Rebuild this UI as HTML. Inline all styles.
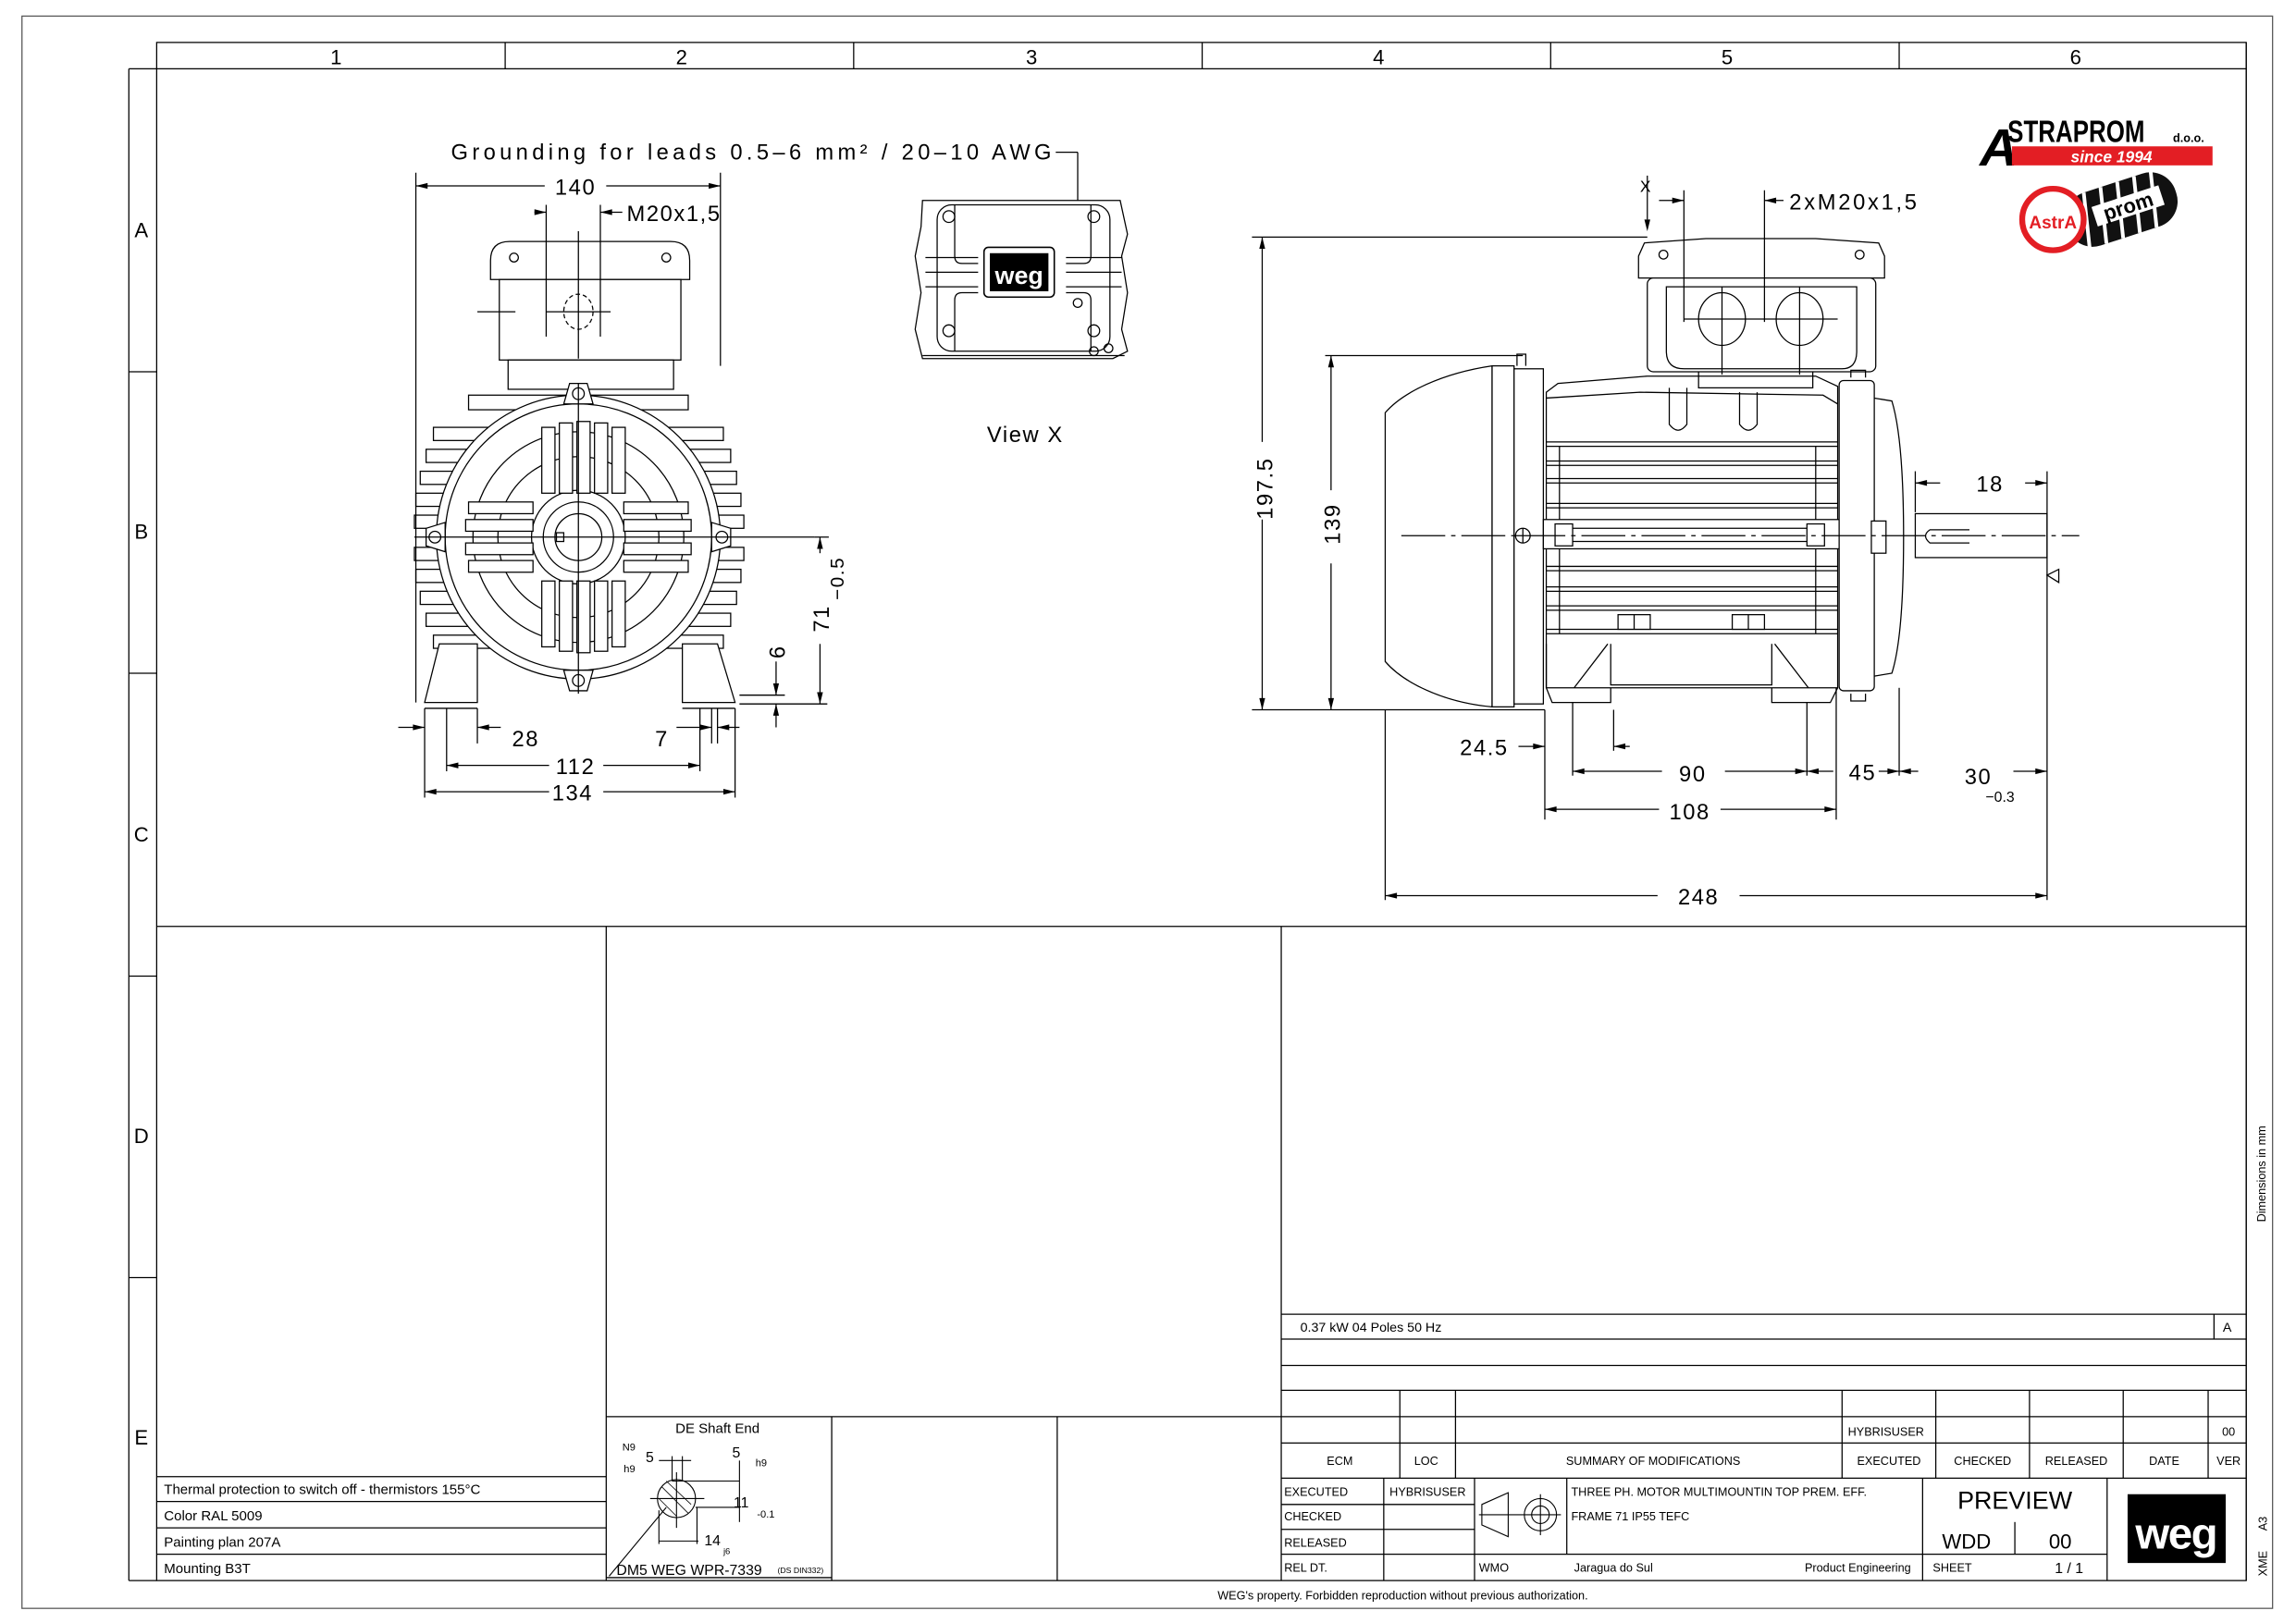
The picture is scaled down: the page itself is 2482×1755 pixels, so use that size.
<!DOCTYPE html>
<html><head><meta charset="utf-8"><style>
html,body{margin:0;padding:0;background:#fff;}
svg{display:block;}
text{font-family:"Liberation Sans",sans-serif;fill:#000;}
.d{font-size:15px;letter-spacing:1px;font-weight:normal;}
.t{font-size:8.5px;}
</style></head><body>
<svg width="2482" height="1755" viewBox="0 0 1568 1109" preserveAspectRatio="none" xmlns="http://www.w3.org/2000/svg">
<rect width="1568" height="1109" fill="#fff"/>
<g fill="none" stroke="#000" stroke-width="0.8">
<rect x="15" y="11" width="1537" height="1088" stroke="#555"/>
<rect x="107" y="29" width="1427" height="1051"/>
<line x1="107" y1="47" x2="1534" y2="47"/>
<line x1="345" y1="29" x2="345" y2="47"/><line x1="583" y1="29" x2="583" y2="47"/>
<line x1="821" y1="29" x2="821" y2="47"/><line x1="1059" y1="29" x2="1059" y2="47"/>
<line x1="1297" y1="29" x2="1297" y2="47"/>
<line x1="88" y1="47" x2="88" y2="1080"/><line x1="88" y1="47" x2="107" y2="47"/>
<line x1="88" y1="254" x2="107" y2="254"/><line x1="88" y1="460" x2="107" y2="460"/>
<line x1="88" y1="667" x2="107" y2="667"/><line x1="88" y1="873" x2="107" y2="873"/>
<line x1="88" y1="1080" x2="107" y2="1080"/>
<line x1="107" y1="633" x2="1534" y2="633"/>
<line x1="414" y1="633" x2="414" y2="1080"/>
<line x1="875" y1="633" x2="875" y2="1080"/>
<line x1="107" y1="1009" x2="414" y2="1009"/><line x1="107" y1="1026" x2="414" y2="1026"/>
<line x1="107" y1="1044" x2="414" y2="1044"/><line x1="107" y1="1062" x2="414" y2="1062"/>
<line x1="414" y1="968" x2="875" y2="968"/>
<line x1="568" y1="968" x2="568" y2="1080"/><line x1="722" y1="968" x2="722" y2="1080"/>
<line x1="414" y1="1078" x2="568" y2="1078"/>
<line x1="875" y1="898" x2="1534" y2="898"/><line x1="875" y1="915" x2="1534" y2="915"/>
<line x1="875" y1="933" x2="1534" y2="933"/><line x1="875" y1="950" x2="1534" y2="950"/>
<line x1="875" y1="968" x2="1534" y2="968"/><line x1="875" y1="986" x2="1534" y2="986"/>
<line x1="875" y1="1010" x2="1534" y2="1010"/>
<line x1="1512" y1="898" x2="1512" y2="915"/>
<line x1="956" y1="950" x2="956" y2="1010"/><line x1="994" y1="950" x2="994" y2="1010"/>
<line x1="1258" y1="950" x2="1258" y2="1010"/><line x1="1322" y1="950" x2="1322" y2="1010"/>
<line x1="1386" y1="950" x2="1386" y2="1010"/><line x1="1450" y1="950" x2="1450" y2="1010"/>
<line x1="1508" y1="950" x2="1508" y2="1010"/>
<line x1="875" y1="1028" x2="1007" y2="1028"/><line x1="875" y1="1045" x2="1007" y2="1045"/>
<line x1="875" y1="1062" x2="1439" y2="1062"/>
<line x1="945" y1="1010" x2="945" y2="1080"/><line x1="1007" y1="1010" x2="1007" y2="1080"/>
<line x1="1070" y1="1010" x2="1070" y2="1062"/><line x1="1313" y1="1010" x2="1313" y2="1080"/>
<line x1="1439" y1="1010" x2="1439" y2="1080"/><line x1="1376" y1="1040" x2="1376" y2="1062"/>
<line x1="1534" y1="29" x2="1534" y2="1080"/>
</g>
<g class="d" text-anchor="middle">
<text x="230" y="44" style="font-size:14px">1</text><text x="466" y="44" style="font-size:14px">2</text>
<text x="705" y="44" style="font-size:14px">3</text><text x="942" y="44" style="font-size:14px">4</text>
<text x="1180" y="44" style="font-size:14px">5</text><text x="1418" y="44" style="font-size:14px">6</text>
<text x="97" y="162" style="font-size:14px">A</text><text x="97" y="368" style="font-size:14px">B</text>
<text x="97" y="575" style="font-size:14px">C</text><text x="97" y="781" style="font-size:14px">D</text>
<text x="97" y="987" style="font-size:14px">E</text>
</g>

<!-- FRONT VIEW -->
<g fill="none" stroke="#000" stroke-width="0.8">
<g fill="#fff">
<rect x="296" y="292" width="198" height="9"/><rect x="291" y="307" width="208" height="9"/>
<rect x="287" y="322" width="216" height="9"/><rect x="284" y="337" width="222" height="9"/>
<rect x="283" y="352" width="225" height="9"/><rect x="283" y="374" width="225" height="9"/>
<rect x="284" y="389" width="222" height="9"/><rect x="287" y="404" width="216" height="9"/>
<rect x="291" y="419" width="208" height="9"/><rect x="296" y="434" width="198" height="9"/>
<rect x="320" y="270" width="150" height="10"/>
</g>
<path d="M300,440 L290,480 L326,480 L326,440 Z" fill="#fff"/>
<path d="M490,440 L502,480 L466,480 L466,440 Z" fill="#fff"/>
<line x1="290" y1="484" x2="326" y2="484"/><line x1="466" y1="484" x2="502" y2="484"/>
<path d="M335,178 Q335,165 348,165 L458,165 Q471,165 471,178 L471,191 L335,191 Z" fill="#fff"/>
<rect x="341" y="191" width="124" height="55" fill="#fff"/>
<rect x="347" y="246" width="113" height="20" fill="#fff"/>
<circle cx="351" cy="176" r="3"/><circle cx="455" cy="176" r="3"/>
<ellipse cx="395" cy="213" rx="10" ry="12" stroke-dasharray="3,2"/>
<line x1="395" y1="158" x2="395" y2="245"/><line x1="373" y1="213" x2="417" y2="213"/>
<line x1="326" y1="213" x2="352" y2="213"/>
<circle cx="395" cy="367" r="97" fill="#fff"/>
<circle cx="395" cy="367" r="91"/>
<circle cx="395" cy="367" r="72"/>
<circle cx="395" cy="367" r="55"/>
<circle cx="395" cy="367" r="32"/>
<g fill="#fff">
<rect x="370" y="292" width="9" height="45"/><rect x="382" y="289" width="9" height="48"/><rect x="394" y="288" width="9" height="49"/><rect x="406" y="289" width="9" height="48"/><rect x="418" y="292" width="9" height="45"/>
<rect x="370" y="397" width="9" height="45"/><rect x="382" y="397" width="9" height="48"/><rect x="394" y="397" width="9" height="49"/><rect x="406" y="397" width="9" height="48"/><rect x="418" y="397" width="9" height="45"/>
<rect x="320" y="343" width="44" height="8"/><rect x="318" y="355" width="46" height="8"/><rect x="318" y="371" width="46" height="8"/><rect x="320" y="383" width="44" height="8"/>
<rect x="426" y="343" width="44" height="8"/><rect x="426" y="355" width="46" height="8"/><rect x="426" y="371" width="46" height="8"/><rect x="426" y="383" width="44" height="8"/>
</g>
<circle cx="395" cy="367" r="24" fill="#fff"/><circle cx="395" cy="367" r="16"/>
<rect x="380" y="364" width="5" height="6"/>
<g fill="#fff">
<path d="M385,276 L389,262 L401,262 L405,276 Z"/><circle cx="395" cy="269" r="4"/>
<path d="M385,458 L389,472 L401,472 L405,458 Z"/><circle cx="395" cy="465" r="4"/>
<path d="M304,357 L291,361 L291,373 L304,377 Z"/><circle cx="297" cy="367" r="4"/>
<path d="M486,357 L499,361 L499,373 L486,377 Z"/><circle cx="493" cy="367" r="4"/>
</g>
<line x1="395" y1="262" x2="395" y2="474"/>
<line x1="283" y1="367" x2="556" y2="367"/>
<line x1="284" y1="118" x2="284" y2="480"/><line x1="492" y1="118" x2="492" y2="250"/>
<line x1="284" y1="127" x2="372" y2="127"/><line x1="414" y1="127" x2="492" y2="127"/>
<line x1="373" y1="140" x2="373" y2="230"/><line x1="410" y1="140" x2="410" y2="230"/>
<line x1="365" y1="145" x2="373" y2="145"/><line x1="410" y1="145" x2="425" y2="145"/>
<line x1="721" y1="104" x2="736" y2="104"/><line x1="736" y1="104" x2="736" y2="205"/>
<line x1="556" y1="367" x2="566" y2="367"/><line x1="560" y1="367" x2="560" y2="378"/>
<line x1="560" y1="440" x2="560" y2="481"/><line x1="505" y1="481" x2="565" y2="481"/>
<line x1="505" y1="475" x2="536" y2="475"/><line x1="530" y1="452" x2="530" y2="475"/><line x1="530" y1="481" x2="530" y2="497"/>
<line x1="290" y1="484" x2="290" y2="545"/><line x1="305" y1="484" x2="305" y2="527"/>
<line x1="326" y1="484" x2="326" y2="508"/><line x1="478" y1="484" x2="478" y2="527"/>
<line x1="486" y1="484" x2="486" y2="508"/><line x1="490" y1="484" x2="490" y2="508"/><line x1="502" y1="484" x2="502" y2="545"/>
<line x1="272" y1="497" x2="290" y2="497"/><line x1="326" y1="497" x2="342" y2="497"/>
<line x1="462" y1="497" x2="486" y2="497"/><line x1="490" y1="497" x2="505" y2="497"/>
<line x1="305" y1="523" x2="375" y2="523"/><line x1="412" y1="523" x2="478" y2="523"/>
<line x1="290" y1="541" x2="375" y2="541"/><line x1="412" y1="541" x2="502" y2="541"/>
</g>
<g fill="#000">
<path d="M284,127 l8,-2 v4z"/><path d="M492,127 l-8,-2 v4z"/>
<path d="M373,145 l-8,-2 v4z"/><path d="M410,145 l8,-2 v4z"/>
<path d="M560,367 l-2,8 h4z"/><path d="M560,481 l-2,-8 h4z"/>
<path d="M530,475 l-2,-8 h4z"/><path d="M530,481 l-2,8 h4z"/>
<path d="M290,497 l-8,-2 v4z"/><path d="M326,497 l8,-2 v4z"/>
<path d="M486,497 l-8,-2 v4z"/><path d="M490,497 l8,-2 v4z"/>
<path d="M305,523 l8,-2 v4z"/><path d="M478,523 l-8,-2 v4z"/>
<path d="M290,541 l8,-2 v4z"/><path d="M502,541 l-8,-2 v4z"/>
</g>
<text class="d" x="308" y="109" textLength="411" lengthAdjust="spacing">Grounding for leads 0.5–6 mm² / 20–10 AWG</text>
<text class="d" x="393" y="133" text-anchor="middle">140</text>
<text class="d" x="428" y="151">M20x1,5</text>
<text class="d" transform="translate(566,432) rotate(-90)">71</text>
<text class="d" transform="translate(576,410) rotate(-90)" style="font-size:13px">−0.5</text>
<text class="d" transform="translate(536,450) rotate(-90)">6</text>
<text class="d" x="359" y="510" text-anchor="middle">28</text>
<text class="d" x="452" y="510" text-anchor="middle">7</text>
<text class="d" x="393" y="529" text-anchor="middle">112</text>
<text class="d" x="391" y="547" text-anchor="middle">134</text>

<!-- VIEW X -->
<g fill="none" stroke="#000" stroke-width="0.8">
<path d="M630,137 L765,137 L770,160 L766,175 L770,200 L766,225 L770,240 L760,245 L630,245 L625,225 L629,200 L625,175 L629,155 Z" fill="#fff"/>
<rect x="640" y="140" width="118" height="100" rx="10"/>
<path d="M652,140 L652,175 Q652,180 657,180 L668,180"/><path d="M745,140 L745,175 Q745,180 740,180 L728,180"/>
<path d="M652,240 L652,205 Q652,200 657,200 L668,200"/><path d="M745,240 L745,205 Q745,200 740,200 L728,200"/>
<line x1="632" y1="176" x2="668" y2="176"/><line x1="632" y1="186" x2="668" y2="186"/><line x1="632" y1="196" x2="668" y2="196"/>
<line x1="728" y1="176" x2="766" y2="176"/><line x1="728" y1="186" x2="766" y2="186"/><line x1="728" y1="196" x2="766" y2="196"/>
<circle cx="648" cy="148" r="4"/><circle cx="747" cy="148" r="4"/><circle cx="648" cy="226" r="4"/><circle cx="747" cy="226" r="4"/>
<circle cx="736" cy="207" r="3"/><circle cx="747" cy="240" r="3"/><circle cx="757" cy="238" r="3"/>
<line x1="630" y1="243" x2="768" y2="243"/>
</g>
<rect x="672" y="169" width="48" height="34" rx="3" fill="#fff" stroke="#000" stroke-width="1"/>
<rect x="676" y="173" width="40" height="26" fill="#000"/>
<text x="696" y="194" text-anchor="middle" style="font-size:17px;font-weight:bold;fill:#fff">weg</text>
<text class="d" x="674" y="302">View  X</text>

<!-- SIDE VIEW -->
<g fill="none" stroke="#000" stroke-width="0.8">
<path d="M1019,250 C985,255 958,268 946,282 L946,452 C958,466 985,480 1019,483 Z" fill="#fff"/>
<rect x="1019" y="250" width="15" height="233" fill="#fff"/>
<rect x="1034" y="252" width="20" height="229" fill="#fff"/>
<path d="M1036,250 v-8 h6 v8"/>
<path d="M1056,268 L1064,262 L1125,257 L1240,257 L1255,264 L1255,470 L1056,470 Z" fill="#fff"/>
<path d="M1056,272 L1120,268 L1245,270 L1255,276"/>
<path d="M1140,265 L1140,290 Q1146,298 1152,290 L1152,265 M1188,268 L1188,290 Q1194,298 1200,290 L1200,268"/>
<g>
<line x1="1056" y1="302" x2="1255" y2="302"/><line x1="1056" y1="305" x2="1255" y2="305"/>
<line x1="1056" y1="315" x2="1255" y2="315"/><line x1="1056" y1="318" x2="1255" y2="318"/>
<line x1="1056" y1="327" x2="1255" y2="327"/><line x1="1056" y1="330" x2="1255" y2="330"/>
<line x1="1056" y1="344" x2="1255" y2="344"/><line x1="1056" y1="347" x2="1255" y2="347"/>
<line x1="1056" y1="387" x2="1255" y2="387"/><line x1="1056" y1="390" x2="1255" y2="390"/>
<line x1="1056" y1="401" x2="1255" y2="401"/><line x1="1056" y1="404" x2="1255" y2="404"/>
<line x1="1056" y1="414" x2="1255" y2="414"/><line x1="1056" y1="417" x2="1255" y2="417"/>
<line x1="1056" y1="430" x2="1255" y2="430"/><line x1="1056" y1="433" x2="1255" y2="433"/>
<line x1="1065" y1="305" x2="1065" y2="433"/><line x1="1240" y1="305" x2="1240" y2="433"/>
</g>
<rect x="1054" y="355" width="202" height="20" fill="#fff"/>
<rect x="1062" y="358" width="12" height="15"/><rect x="1234" y="358" width="12" height="15"/>
<line x1="1074" y1="361" x2="1234" y2="361"/><line x1="1074" y1="370" x2="1234" y2="370"/>
<path d="M1056,440 L1056,470 L1060,480 L1100,480 L1100,470 M1210,470 L1210,480 L1250,480 L1255,470"/>
<path d="M1098,440 L1075,470 M1212,440 L1235,470 M1100,440 L1100,468 L1210,468 L1210,440"/>
<rect x="1105" y="420" width="22" height="10" fill="#fff"/><rect x="1183" y="420" width="22" height="10" fill="#fff"/>
<line x1="1116" y1="420" x2="1116" y2="430"/><line x1="1194" y1="420" x2="1194" y2="430"/>
<path d="M1119,175 L1123,166 L1165,163 L1240,163 L1283,166 L1287,175 L1287,190 L1119,190 Z" fill="#fff"/>
<rect x="1125" y="190" width="156" height="64" rx="4" fill="#fff"/>
<path d="M1138,196 L1138,240 Q1138,252 1150,252 L1258,252 Q1268,252 1268,240 L1268,196 Z"/>
<ellipse cx="1176" cy="218" rx="16" ry="18"/><ellipse cx="1229" cy="218" rx="16" ry="18"/>
<line x1="1150" y1="218" x2="1255" y2="218"/>
<line x1="1176" y1="196" x2="1176" y2="256"/><line x1="1229" y1="196" x2="1229" y2="256"/>
<circle cx="1136" cy="174" r="3"/><circle cx="1270" cy="174" r="3"/>
<path d="M1160,254 L1160,265 L1238,265 L1238,254"/>
<rect x="1256" y="260" width="24" height="212" rx="3" fill="#fff"/>
<path d="M1280,272 L1292,274 Q1300,300 1300,367 Q1300,435 1292,460 L1280,462"/>
<path d="M1264,258 v-5 h10 v5 M1264,474 v5 h10 v-5"/>
<rect x="1278" y="356" width="10" height="22" fill="#fff"/>
<rect x="1308" y="351" width="90" height="30" fill="#fff"/>
<path d="M1345,362 L1318,362 Q1312,366 1318,371 L1345,371"/>
<line x1="957" y1="366" x2="1420" y2="366" stroke-dasharray="30,4,3,4"/>
<circle cx="1040" cy="366" r="5" fill="#fff"/><line x1="1035" y1="366" x2="1045" y2="366"/><line x1="1040" y1="361" x2="1040" y2="371"/>
<line x1="855" y1="162" x2="1125" y2="162"/>
<line x1="862" y1="162" x2="862" y2="302"/><line x1="862" y1="355" x2="862" y2="485"/>
<line x1="905" y1="243" x2="1040" y2="243"/>
<line x1="909" y1="243" x2="909" y2="335"/><line x1="909" y1="385" x2="909" y2="485"/>
<line x1="855" y1="485" x2="1055" y2="485"/>
<line x1="1125" y1="120" x2="1125" y2="150"/>
<line x1="1150" y1="130" x2="1150" y2="220"/><line x1="1205" y1="130" x2="1205" y2="220"/>
<line x1="1133" y1="137" x2="1150" y2="137"/><line x1="1205" y1="137" x2="1218" y2="137"/>
<line x1="1308" y1="322" x2="1308" y2="350"/><line x1="1398" y1="322" x2="1398" y2="615"/>
<line x1="1308" y1="330" x2="1325" y2="330"/><line x1="1383" y1="330" x2="1398" y2="330"/>
<line x1="946" y1="485" x2="946" y2="615"/>
<line x1="1055" y1="485" x2="1055" y2="560"/><line x1="1074" y1="480" x2="1074" y2="530"/>
<line x1="1102" y1="485" x2="1102" y2="513"/>
<line x1="1234" y1="480" x2="1234" y2="530"/><line x1="1254" y1="470" x2="1254" y2="560"/>
<line x1="1297" y1="470" x2="1297" y2="530"/>
<line x1="1037" y1="510" x2="1055" y2="510"/><line x1="1102" y1="510" x2="1113" y2="510"/>
<line x1="1074" y1="527" x2="1135" y2="527"/><line x1="1178" y1="527" x2="1234" y2="527"/>
<line x1="1234" y1="527" x2="1252" y2="527"/><line x1="1283" y1="527" x2="1297" y2="527"/>
<line x1="1297" y1="527" x2="1310" y2="527"/><line x1="1375" y1="527" x2="1398" y2="527"/>
<line x1="1055" y1="553" x2="1133" y2="553"/><line x1="1175" y1="553" x2="1254" y2="553"/>
<line x1="946" y1="612" x2="1132" y2="612"/><line x1="1188" y1="612" x2="1398" y2="612"/>
<path d="M1398,393 L1406,389 L1406,398 Z"/>
</g>
<g fill="#000">
<path d="M862,162 l-2,8 h4z"/><path d="M862,485 l-2,-8 h4z"/>
<path d="M909,243 l-2,8 h4z"/><path d="M909,485 l-2,-8 h4z"/>
<path d="M1125,158 l-2,-8 h4z"/>
<path d="M1150,137 l-8,-2 v4z"/><path d="M1205,137 l8,-2 v4z"/>
<path d="M1308,330 l8,-2 v4z"/><path d="M1398,330 l-8,-2 v4z"/>
<path d="M1055,510 l-8,-2 v4z"/><path d="M1102,510 l8,-2 v4z"/>
<path d="M1074,527 l8,-2 v4z"/><path d="M1234,527 l-8,-2 v4z"/>
<path d="M1234,527 l8,-2 v4z"/><path d="M1297,527 l-8,-2 v4z"/>
<path d="M1297,527 l8,-2 v4z"/><path d="M1398,527 l-8,-2 v4z"/>
<path d="M1055,553 l8,-2 v4z"/><path d="M1254,553 l-8,-2 v4z"/>
<path d="M946,612 l8,-2 v4z"/><path d="M1398,612 l-8,-2 v4z"/>
</g>
<text class="d" x="1120" y="131" style="font-size:11px">X</text>
<text class="d" x="1222" y="143" textLength="88" lengthAdjust="spacing">2xM20x1,5</text>
<text class="d" transform="translate(869,355) rotate(-90)">197.5</text>
<text class="d" transform="translate(915,372) rotate(-90)">139</text>
<text class="d" x="997" y="516">24.5</text>
<text class="d" x="1156" y="534" text-anchor="middle">90</text>
<text class="d" x="1272" y="533" text-anchor="middle">45</text>
<text class="d" x="1351" y="536" text-anchor="middle">30</text>
<text x="1356" y="548" style="font-size:10px">−0.3</text>
<text class="d" x="1154" y="560" text-anchor="middle">108</text>
<text class="d" x="1160" y="618" text-anchor="middle">248</text>
<text class="d" x="1359" y="336" text-anchor="middle">18</text>

<!-- LOGOS -->
<text x="1352" y="113" style="font-size:36px;font-weight:bold;font-style:italic">A</text>
<text x="1371" y="97" transform="translate(1371,0) scale(0.78,1) translate(-1371,0)" style="font-size:21px;font-weight:bold">STRAPROM</text>
<text x="1484" y="97" style="font-size:8px;font-weight:bold">d.o.o.</text>
<rect x="1374" y="100" width="137" height="13" fill="#e31e24"/>
<text x="1442" y="111" text-anchor="middle" style="font-size:11px;font-weight:bold;font-style:italic;fill:#fff">since 1994</text>
<g transform="rotate(-18 1440 145)">
<rect x="1410" y="127" width="78" height="38" rx="18" fill="#111"/>
<g stroke="#fff" stroke-width="2.5"><line x1="1428" y1="127" x2="1420" y2="165"/><line x1="1440" y1="127" x2="1432" y2="165"/><line x1="1452" y1="127" x2="1444" y2="165"/><line x1="1464" y1="127" x2="1456" y2="165"/><line x1="1476" y1="127" x2="1468" y2="165"/></g>
<rect x="1430" y="138" width="48" height="14" fill="#fff"/>
<text x="1454" y="150" text-anchor="middle" style="font-size:14px;font-weight:bold">prom</text>
</g>
<circle cx="1402" cy="150" r="21" fill="#fff" stroke="#e31e24" stroke-width="4"/>
<text x="1402" y="156" text-anchor="middle" style="font-size:12px;font-weight:bold;fill:#e31e24">AstrA</text>

<!-- NOTES -->
<text x="112" y="1021" style="font-size:9.5px">Thermal protection to switch off - thermistors 155°C</text>
<text x="112" y="1039" style="font-size:9.5px">Color RAL 5009</text>
<text x="112" y="1057" style="font-size:9.5px">Painting plan 207A</text>
<text x="112" y="1075" style="font-size:9.5px">Mounting B3T</text>
<text x="490" y="979" text-anchor="middle" style="font-size:9.5px">DE Shaft End</text>
<g fill="none" stroke="#000" stroke-width="0.7">
<circle cx="462" cy="1024" r="13"/>
<line x1="444" y1="1024" x2="481" y2="1024"/><line x1="462" y1="1006" x2="462" y2="1044"/>
<line x1="459" y1="995" x2="459" y2="1012"/><line x1="466" y1="995" x2="466" y2="1012"/>
<line x1="459" y1="1012" x2="505" y2="1012"/><line x1="475" y1="1030" x2="505" y2="1030"/>
<line x1="505" y1="998" x2="505" y2="1040"/>
<line x1="450" y1="1032" x2="450" y2="1055"/><line x1="476" y1="1030" x2="476" y2="1055"/>
<line x1="450" y1="1053" x2="477" y2="1053"/>
<line x1="450" y1="998" x2="472" y2="998"/>
<line x1="416" y1="1077" x2="455" y2="1030"/>
<path d="M452,1016 L470,1034 M450,1024 L462,1036 M455,1012 L472,1028" stroke-width="0.5"/>
</g>
<text x="425" y="991" style="font-size:7px">N9</text><text x="426" y="1006" style="font-size:7px">h9</text>
<text x="441" y="999" style="font-size:10px">5</text><text x="500" y="996" style="font-size:10px">5</text>
<text x="516" y="1002" style="font-size:7px">h9</text><text x="501" y="1030" style="font-size:10px">11</text>
<text x="517" y="1037" style="font-size:7px">-0.1</text><text x="481" y="1056" style="font-size:10px">14</text>
<text x="494" y="1062" style="font-size:6px">j6</text>
<text x="421" y="1076" style="font-size:10px">DM5 WEG WPR-7339</text>
<text x="531" y="1075" style="font-size:5.5px">(DS DIN332)</text>

<!-- TITLE BLOCK TEXT -->
<text x="888" y="910" style="font-size:9px">0.37 kW    04 Poles    50  Hz</text>
<text x="1521" y="910" text-anchor="middle" style="font-size:9px">A</text>
<text x="1262" y="981" style="font-size:8px">HYBRISUSER</text>
<text x="1522" y="981" text-anchor="middle" style="font-size:8px">00</text>
<g text-anchor="middle">
<text x="915" y="1001" style="font-size:8px">ECM</text><text x="974" y="1001" style="font-size:8px">LOC</text>
<text x="1129" y="1001" style="font-size:8px">SUMMARY OF MODIFICATIONS</text>
<text x="1290" y="1001" style="font-size:8px">EXECUTED</text><text x="1354" y="1001" style="font-size:8px">CHECKED</text>
<text x="1418" y="1001" style="font-size:8px">RELEASED</text><text x="1478" y="1001" style="font-size:8px">DATE</text>
<text x="1522" y="1001" style="font-size:8px">VER</text>
</g>
<text x="877" y="1022" style="font-size:8px">EXECUTED</text><text x="949" y="1022" style="font-size:8px">HYBRISUSER</text>
<text x="877" y="1039" style="font-size:8px">CHECKED</text>
<text x="877" y="1057" style="font-size:8px">RELEASED</text>
<text x="877" y="1074" style="font-size:8px">REL DT.</text>
<text x="1010" y="1074" style="font-size:8px">WMO</text>
<text x="1075" y="1074" style="font-size:8px">Jaragua do Sul</text>
<text x="1305" y="1074" text-anchor="end" style="font-size:8px">Product Engineering</text>
<text x="1073" y="1022" style="font-size:8px">THREE PH. MOTOR  MULTIMOUNTIN  TOP PREM. EFF.</text>
<text x="1073" y="1039" style="font-size:8px">FRAME 71 IP55 TEFC</text>
<text x="1376" y="1031" text-anchor="middle" style="font-size:17px">PREVIEW</text>
<text x="1343" y="1058" text-anchor="middle" style="font-size:14px">WDD</text>
<text x="1407" y="1058" text-anchor="middle" style="font-size:14px">00</text>
<text x="1320" y="1074" style="font-size:8px">SHEET</text>
<text x="1413" y="1075" text-anchor="middle" style="font-size:10px">1  /  1</text>
<text x="958" y="1093" text-anchor="middle" style="font-size:8px">WEG's property. Forbidden reproduction without previous authorization.</text>
<g fill="none" stroke="#000" stroke-width="0.7">
<path d="M1012,1028 L1030,1020 L1030,1050 L1012,1042 Z"/>
<circle cx="1052" cy="1035" r="11"/><circle cx="1052" cy="1035" r="6"/>
<line x1="1010" y1="1035" x2="1066" y2="1035"/><line x1="1052" y1="1021" x2="1052" y2="1049"/>
</g>
<rect x="1453" y="1021" width="67" height="47" fill="#000"/>
<text x="1486" y="1058" text-anchor="middle" style="font-size:30px;font-weight:bold;fill:#fff;letter-spacing:-1px">weg</text>
<text transform="translate(1547,835) rotate(-90)" style="font-size:8px">Dimensions in mm</text>
<text transform="translate(1548,1077) rotate(-90)" style="font-size:8px">XME</text>
<text transform="translate(1548,1046) rotate(-90)" style="font-size:8px">A3</text>
</svg>
</body></html>
